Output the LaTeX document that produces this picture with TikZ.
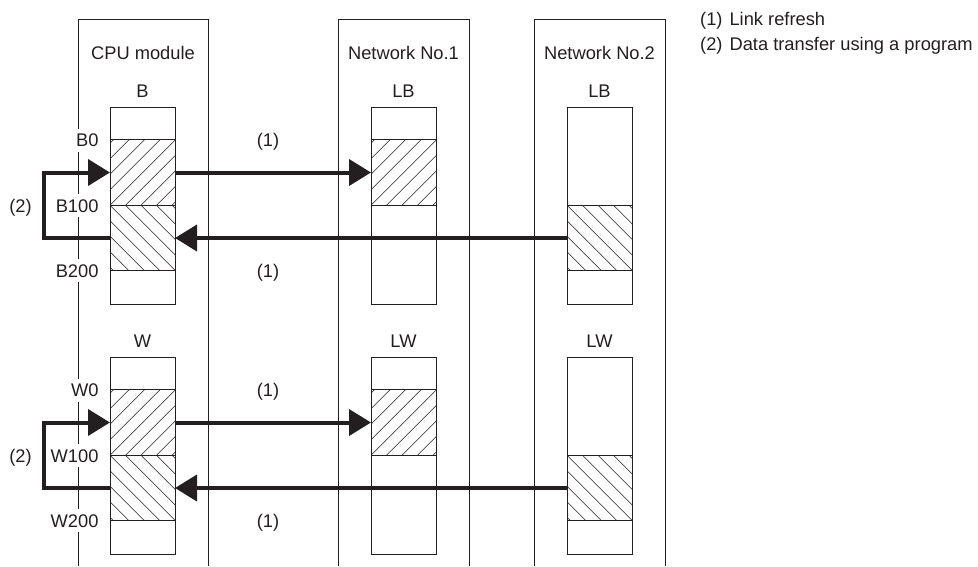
\documentclass[tikz,border=0pt]{standalone}
\usepackage{fontspec}
\setmainfont{Liberation Sans}
\usetikzlibrary{arrows.meta,calc}
\definecolor{ink}{HTML}{231F20}
\tikzset{
  col/.style={draw=ink, line width=0.9pt},
  mem/.style={draw=ink, line width=0.9pt, minimum width=65pt, inner sep=0pt, outer sep=0pt},
  hatchline/.style={draw=ink, line width=0.6pt},
  flow/.style={draw=ink, line width=4pt, -{Triangle[length=22pt,width=26pt]}},
  lbl/.style={text=ink, font=\fontsize{18.3}{22}\selectfont, inner sep=1pt},
  addr/.style={lbl, inner ysep=5pt, anchor=base east},
}
\newcommand\myhatchNE[1]{%
  \begin{scope}
    \clip (#1.south west) rectangle (#1.north east);
    \foreach \k in {-6,...,6} \draw[hatchline] ($(#1.south west)+(\k*15.5,0)$) -- ++(100,-100);
  \end{scope}}
\newcommand\myhatchSE[1]{%
  \begin{scope}
    \clip (#1.south west) rectangle (#1.north east);
    \foreach \k in {-6,...,6} \draw[hatchline] ($(#1.north west)+(\k*15.5,0)$) -- ++(100,100);
  \end{scope}}
\begin{document}
\begin{tikzpicture}[x=1pt,y=-1pt]
\useasboundingbox (0,0) rectangle (978,566);
% columns (open at the bottom); CPU left edge drawn later in pieces
\coordinate (cl) at (78,0);
\draw[col] (78,19) -- (208,19) -- (208,566);
\draw[col] (338,566) -- (338,19) -- (469,19) -- (469,566);
\draw[col] (534,566) -- (534,19) -- (665,19) -- (665,566);
\node[lbl, anchor=base] (hcpu) at (143,59) {CPU module};
\node[lbl, anchor=base] (hnet1) at (403.5,59) {Network No.1};
\node[lbl, anchor=base] (hnet2) at (599.5,59) {Network No.2};
% legend
\node[lbl, anchor=base west] (leg1) at (699,25) {(1)\hspace{7pt}Link refresh};
\node[lbl, anchor=base west] (leg2) at (699,50) {(2)\hspace{7pt}Data transfer using a program};
\foreach \o/\d/\ld/\t in {0/B/LB/b, 250/W/LW/w} {
  % device labels
  \node[lbl, anchor=base] (\t dcpu) at (142.5,97.7+\o) {\d};
  \node[lbl, anchor=base] (\t dn1) at (403.5,97.7+\o) {\ld};
  \node[lbl, anchor=base] (\t dn2) at (599.5,97.7+\o) {\ld};
  % memory bars
  \node[mem, minimum height=197pt] (\t cpu) at (142.5,205.5+\o) {};
  \node[mem, minimum height=197pt] (\t net1) at (403.5,205.5+\o) {};
  \node[mem, minimum height=197pt] (\t net2) at (599.5,205.5+\o) {};
  % hatched areas
  \node[mem, minimum height=65.5pt] (\t hi) at (142.5,172.5+\o) {};
  \node[mem, minimum height=65.5pt] (\t lo) at (142.5,238+\o) {};
  \node[mem, minimum height=65.5pt] (\t nhi) at (403.5,172.5+\o) {};
  \node[mem, minimum height=65.5pt] (\t nlo) at (599.5,238+\o) {};
  \myhatchNE{\t hi}
  \myhatchSE{\t lo}
  \myhatchNE{\t nhi}
  \myhatchSE{\t nlo}
  % address labels
  \node[addr] (\t a0) at (99.7,146.7+\o) {\d 0};
  \node[addr] (\t a1) at (99.7,212+\o) {\d 100};
  \node[addr] (\t a2) at (99.7,277+\o) {\d 200};
  % flows
  \draw[flow] (\t hi.east) -- (\t nhi.west);
  \draw[flow] (\t nlo.west) -- (\t lo.east);
  \draw[flow] (\t lo.west) -- ++(-66,0) |- (\t hi.west);
  \node[lbl, anchor=base] (\t f1) at (268,146.7+\o) {(1)};
  \node[lbl, anchor=base] (\t f2) at (268,277+\o) {(1)};
  \node[lbl, anchor=base] (\t f3) at (20.5,212+\o) {(2)};
}
% CPU column left edge, broken at the address labels
\draw[col] (78,19) -- (cl |- ba0.north);
\draw[col] (cl |- ba0.south) -- (cl |- ba1.north);
\draw[col] (cl |- ba1.south) -- (cl |- ba2.north);
\draw[col] (cl |- ba2.south) -- (cl |- wa0.north);
\draw[col] (cl |- wa0.south) -- (cl |- wa1.north);
\draw[col] (cl |- wa1.south) -- (cl |- wa2.north);
\draw[col] (cl |- wa2.south) -- (78,566);
\end{tikzpicture}
\end{document}
